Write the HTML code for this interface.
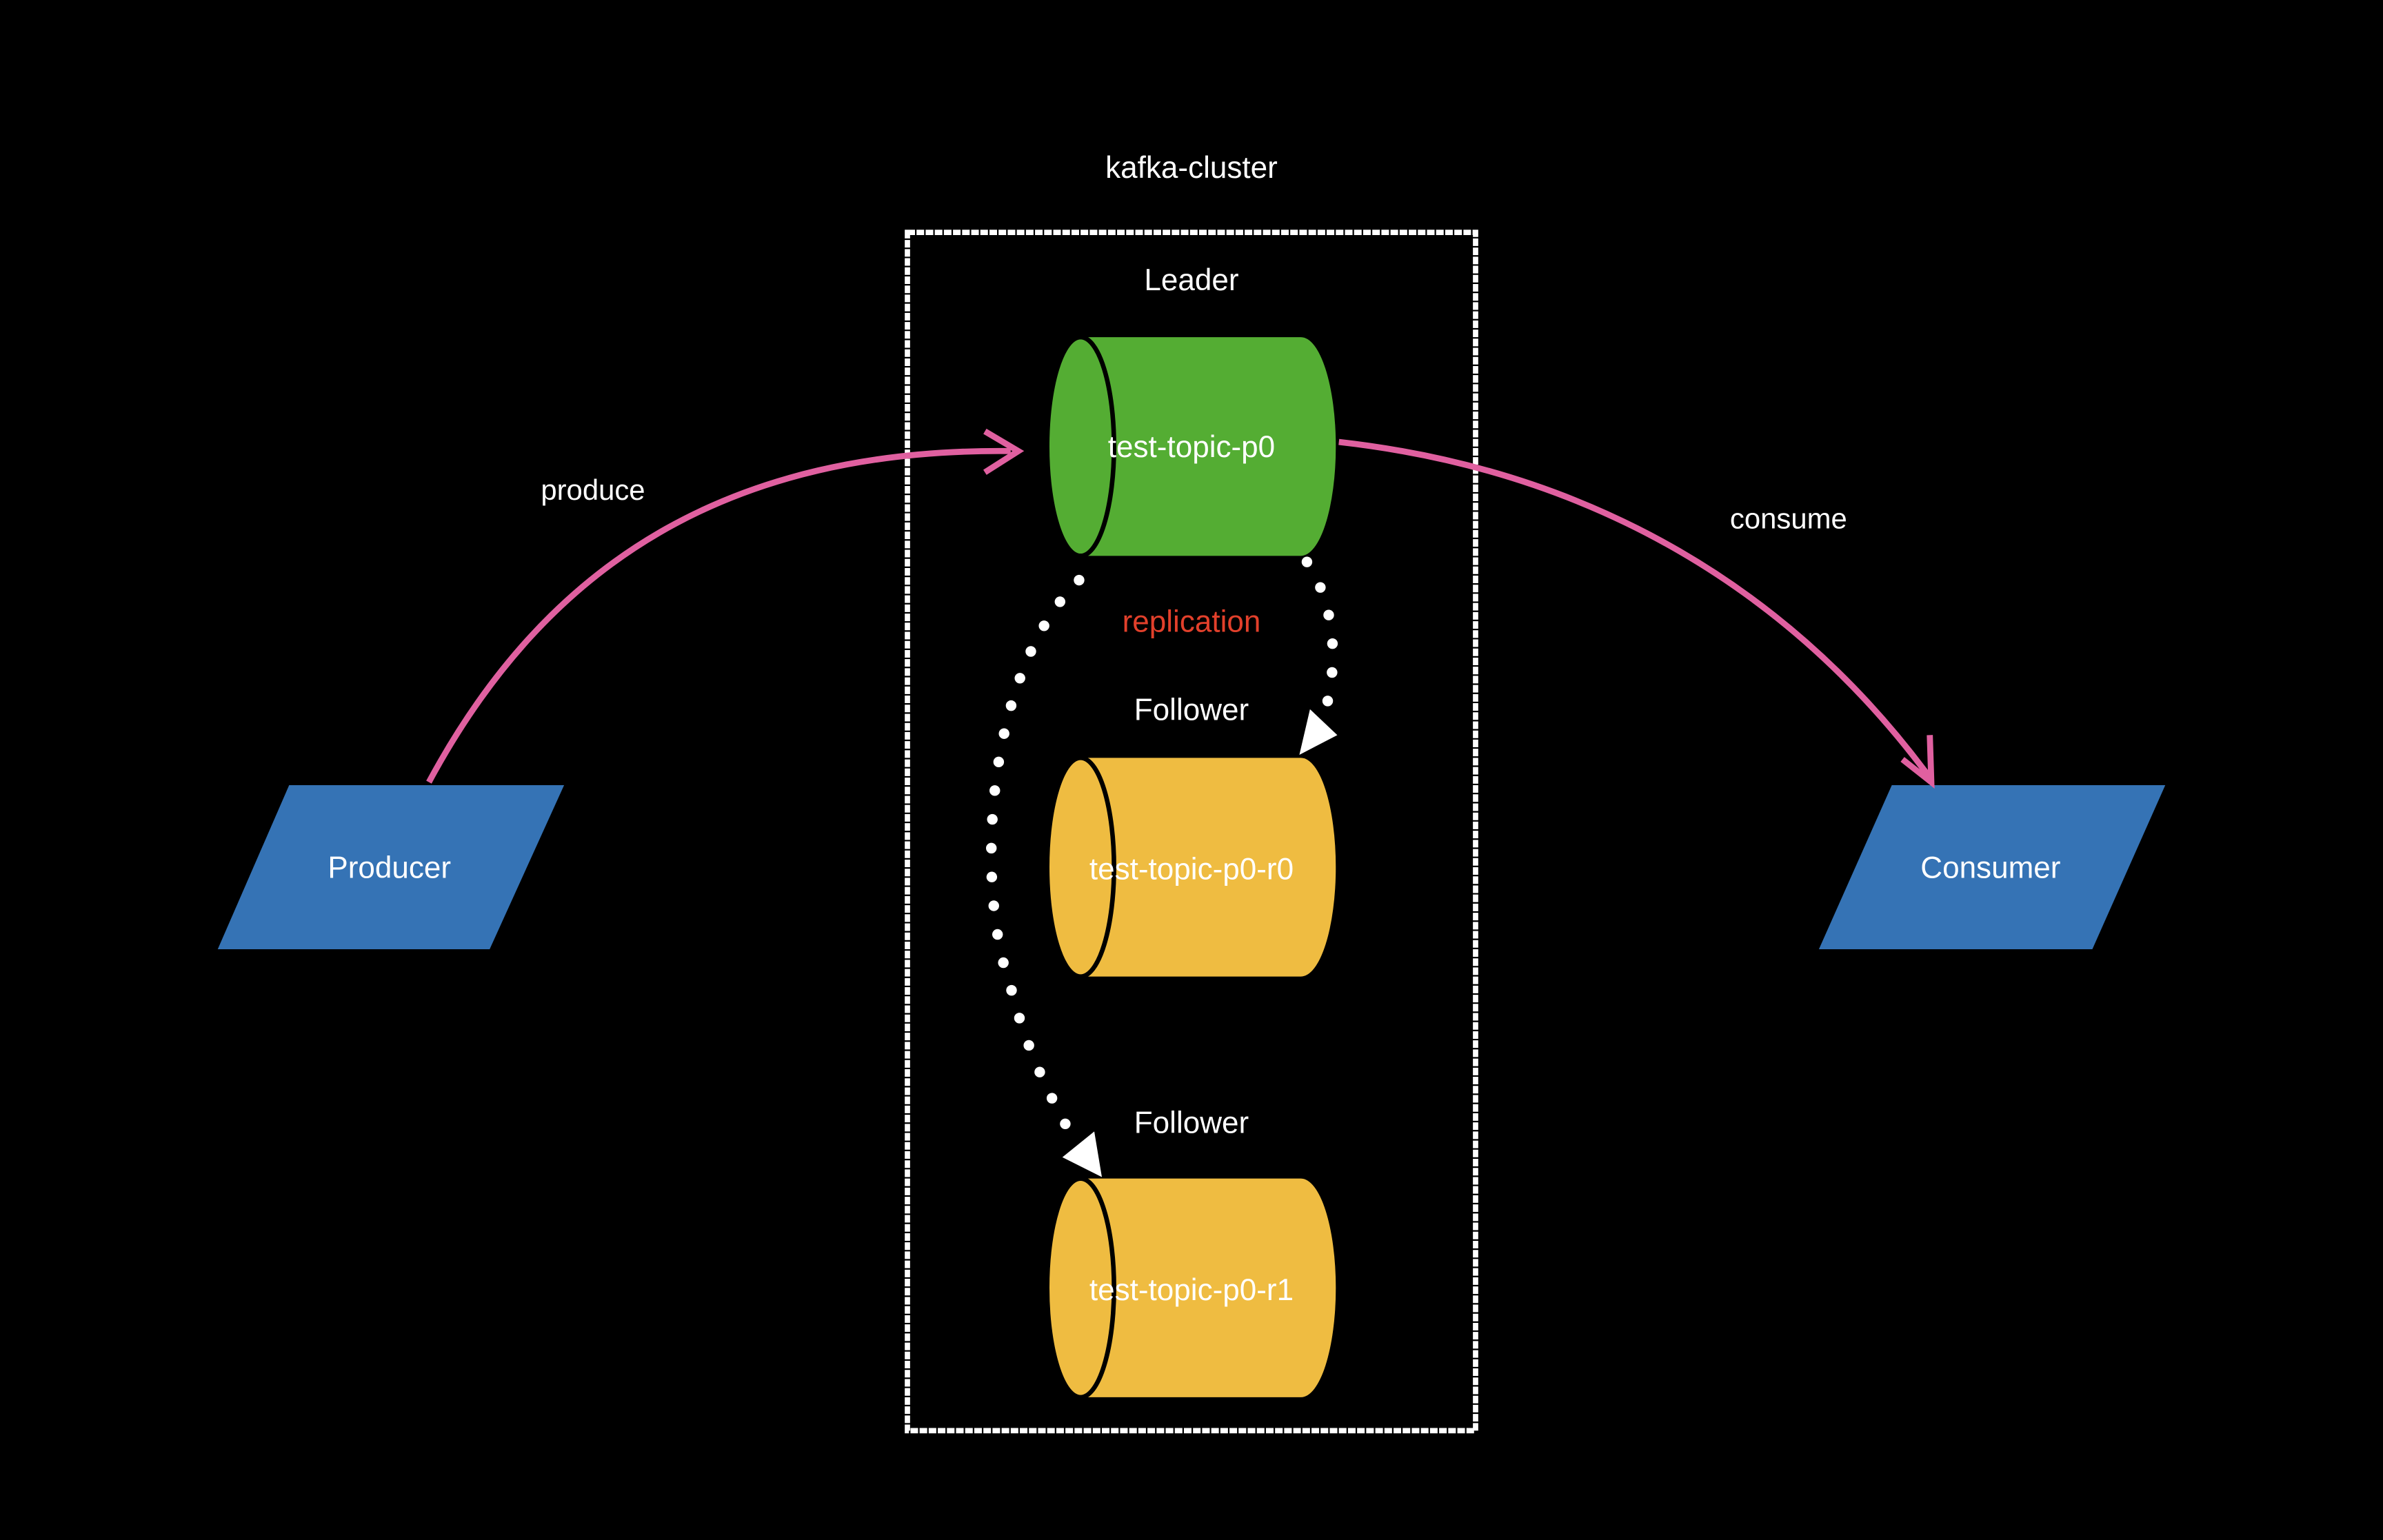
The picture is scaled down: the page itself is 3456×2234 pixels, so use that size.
<!DOCTYPE html>
<html><head><meta charset="utf-8"><style>html,body{margin:0;padding:0;background:#000;}svg{display:block}</style></head>
<body>
<svg width="3456" height="2234" viewBox="0 0 1568 1014" xmlns="http://www.w3.org/2000/svg" font-family="Liberation Sans, sans-serif">
<rect width="1568" height="1014" fill="#000"/>
<text x="784" y="117" fill="#fff" font-size="20" text-anchor="middle">kafka-cluster</text>
<rect x="597" y="153" width="374" height="789" fill="none" stroke="#fff" stroke-width="3.5" stroke-dasharray="5 1"/>
<text x="784" y="191" fill="#fff" font-size="20" text-anchor="middle">Leader</text>
<text x="784" y="474" fill="#fff" font-size="20" text-anchor="middle">Follower</text>
<text x="784" y="746" fill="#fff" font-size="20" text-anchor="middle">Follower</text>
<text x="784" y="416" fill="#e2402b" font-size="20" text-anchor="middle">replication</text>
<g>
<path d="M711,222 L856,222 A23,72 0 0 1 856,366 L711,366 Z" fill="#54ad33"/>
<ellipse cx="711" cy="294" rx="22" ry="72" fill="#54ad33" stroke="#000" stroke-width="3"/>
<text x="784" y="301" fill="#fff" font-size="20" text-anchor="middle">test-topic-p0</text>
</g>
<g>
<path d="M711,499 L856,499 A23,72 0 0 1 856,643 L711,643 Z" fill="#efbc41"/>
<ellipse cx="711" cy="571" rx="22" ry="72" fill="#efbc41" stroke="#000" stroke-width="3"/>
<text x="784" y="579" fill="#fff" font-size="20" text-anchor="middle">test-topic-p0-r0</text>
</g>
<g>
<path d="M711,776 L856,776 A23,72 0 0 1 856,920 L711,920 Z" fill="#efbc41"/>
<ellipse cx="711" cy="848" rx="22" ry="72" fill="#efbc41" stroke="#000" stroke-width="3"/>
<text x="784" y="856" fill="#fff" font-size="20" text-anchor="middle">test-topic-p0-r1</text>
</g>
<polygon points="190,517 371,517 322,625 143,625" fill="#3573b5"/>
<text x="256" y="578" fill="#fff" font-size="20" text-anchor="middle">Producer</text>
<polygon points="1245,517 1425,517 1377,625 1197,625" fill="#3573b5"/>
<text x="1310" y="578" fill="#fff" font-size="20" text-anchor="middle">Consumer</text>
<path d="M282,515 C360,370 480,295 665,297" fill="none" stroke="#e060a0" stroke-width="4"/>
<path d="M648,284 L670,297 L648,311" fill="none" stroke="#e060a0" stroke-width="4"/>
<text x="390" y="329" fill="#fff" font-size="19" text-anchor="middle">produce</text>
<path d="M881,291 C1050,310 1180,390 1270,512" fill="none" stroke="#e060a0" stroke-width="4"/>
<path d="M1252,500 L1271,515 L1270,484" fill="none" stroke="#e060a0" stroke-width="4"/>
<text x="1177" y="348" fill="#fff" font-size="19" text-anchor="middle">consume</text>
<path d="M860,370 C880,400 880,440 872,468" fill="none" stroke="#fff" stroke-width="7" stroke-linecap="round" stroke-dasharray="0 19"/>
<polygon points="855,497 880,484 862,467" fill="#fff"/>
<path d="M710,382 C650,440 640,580 665,650 C675,690 690,720 702,742" fill="none" stroke="#fff" stroke-width="7" stroke-linecap="round" stroke-dasharray="0 19"/>
<polygon points="699,762 725,775 720,745" fill="#fff"/>
</svg>
</body></html>
